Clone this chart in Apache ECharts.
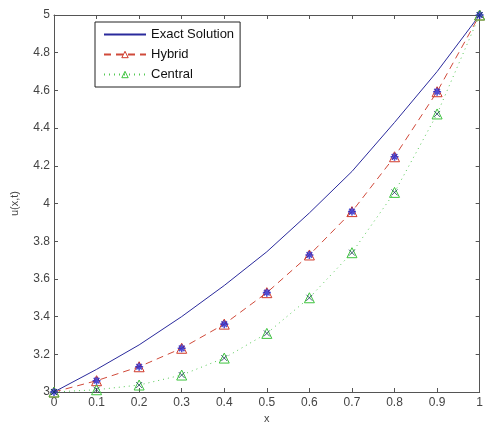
<!DOCTYPE html>
<html>
<head>
<meta charset="utf-8">
<script src="https://cdn.jsdelivr.net/npm/echarts@6/dist/echarts.min.js"></script>
<style>
    html, body { margin: 0; padding: 0; background: #fff; }
    #chart { width: 486px; height: 430px; }
</style>
</head>
<body>
<div id="chart"></div>
<script>
// data
const xs = [0, 0.1, 0.2, 0.3, 0.4, 0.5, 0.6, 0.7, 0.8, 0.9, 1];
const exact = [3, 3.12, 3.25, 3.40, 3.565, 3.744, 3.95, 4.17, 4.43, 4.70, 5];
const hybrid = [3, 3.06, 3.134, 3.232, 3.36, 3.527, 3.727, 3.957, 4.248, 4.593, 5];
const central = [3, 3.012, 3.037, 3.09, 3.18, 3.311, 3.50, 3.739, 4.059, 4.475, 5];

const pairs = (ys) => xs.map((x, i) => [x, ys[i]]);

const axisCol = '#555';
const font = 'Liberation Sans';

const starPath = 'path://M0,-10L0,10M-10,0L10,0M-7,-7L7,7M-7,7L7,-7';
const crossPath = 'path://M-7,-7L7,7M-7,7L7,-7';

const chart = echarts.init(document.getElementById('chart'));

const boxAxis = {
    min: 0, max: 1, interval: 0.1,
    axisLine: { show: true, onZero: false, lineStyle: { color: axisCol, width: 1 } },
    axisTick: { show: true, inside: true, length: 4, lineStyle: { color: axisCol } },
    splitLine: { show: false }
};

chart.setOption({
    animation: false,
    grid: { left: 54, right: 6, top: 15, bottom: 38 },
    legend: {
        orient: 'vertical',
        left: 95,
        top: 22,
        backgroundColor: '#fff',
        borderColor: '#222',
        borderWidth: 1,
        borderRadius: 0,
        padding: [6, 6, 6, 8],
        itemWidth: 42,
        itemHeight: 8,
        itemGap: 7,
        itemStyle: { borderWidth: 1 },
        textStyle: { fontFamily: font, fontSize: 13, color: '#111' },
        data: [
            { name: 'Exact Solution', itemStyle: { opacity: 0 } },
            'Hybrid',
            'Central'
        ]
    },
    xAxis: [
        Object.assign({}, boxAxis, {
            type: 'value', position: 'bottom',
            name: 'x', nameLocation: 'middle', nameGap: 20,
            nameTextStyle: { fontFamily: font, fontSize: 11, color: '#444' },
            axisLabel: { margin: 5, fontFamily: font, fontSize: 12, color: '#444' }
        }),
        Object.assign({}, boxAxis, {
            type: 'value', position: 'top',
            axisLabel: { show: false }
        })
    ],
    yAxis: [
        Object.assign({}, boxAxis, {
            type: 'value', position: 'left', min: 3, max: 5, interval: 0.2,
            name: 'u(x,t)', nameLocation: 'middle', nameGap: 34,
            nameTextStyle: { fontFamily: font, fontSize: 11, color: '#444' },
            axisLabel: { margin: 4, fontFamily: font, fontSize: 12, color: '#444' }
        }),
        Object.assign({}, boxAxis, {
            type: 'value', position: 'right', min: 3, max: 5, interval: 0.2,
            axisLabel: { show: false }
        })
    ],
    series: [
        {
            name: 'Exact Solution',
            type: 'line',
            data: pairs(exact),
            showSymbol: false,
            symbol: 'none',
            lineStyle: { color: '#2a2a9c', width: 1 },
            itemStyle: { color: '#2a2a9c' },
            z: 3
        },
        {
            name: 'Hybrid',
            type: 'line',
            data: pairs(hybrid),
            symbol: 'triangle',
            symbolSize: 10,
            lineStyle: { color: '#d04a3a', width: 1, type: [7, 5] },
            itemStyle: { color: 'transparent', borderColor: '#d03a2a', borderWidth: 1 },
            z: 4
        },
        {
            name: 'Central',
            type: 'line',
            data: pairs(central),
            symbol: 'triangle',
            symbolSize: 10,
            lineStyle: { color: '#55c855', width: 1, type: [1, 4] },
            itemStyle: { color: 'transparent', borderColor: '#3ec43e', borderWidth: 1 },
            z: 4
        },
        {
            name: 'hybrid marks',
            type: 'scatter',
            data: pairs(hybrid),
            symbol: starPath,
            symbolSize: 8,
            itemStyle: { color: 'transparent', borderColor: '#2020c8', borderWidth: 1.6 },
            z: 5
        },
        {
            name: 'central marks',
            type: 'scatter',
            data: pairs(central),
            symbol: crossPath,
            symbolSize: 6,
            itemStyle: { color: 'transparent', borderColor: '#1a3a5a', borderWidth: 1 },
            z: 5
        }
    ]
});
</script>
</body>
</html>
